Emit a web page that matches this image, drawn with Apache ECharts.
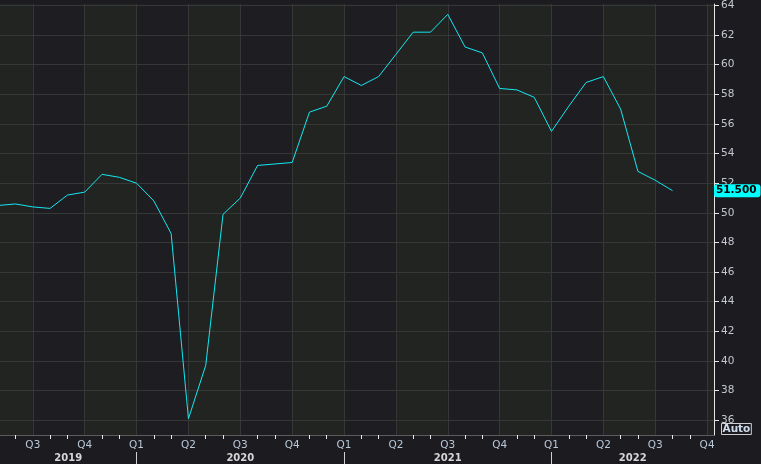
<!DOCTYPE html>
<html>
<head>
<meta charset="utf-8">
<script src="https://cdn.jsdelivr.net/npm/echarts@6/dist/echarts.min.js"></script>
<style>
  html, body { margin: 0; padding: 0; background: #1c1b20; }
  #chart { width: 761px; height: 464px; }
</style>
</head>
<body>
<div id="chart"></div>
<script>
// monthly index counted from Jan 2019 = 0
var firstMonth = 4; // May 2019
var pmiValues = [
    50.5, 50.6, 50.4, 50.3, 51.2, 51.4, 52.6, 52.4,                         // May-Dec 2019
    52.0, 50.8, 48.6, 36.1, 39.7, 49.9, 51.0, 53.2, 53.3, 53.4, 56.8, 57.2, // 2020
    59.2, 58.6, 59.2, 60.7, 62.2, 62.2, 63.4, 61.2, 60.8, 58.4, 58.3, 57.8, // 2021
    55.5, 57.2, 58.8, 59.2, 57.0, 52.8, 52.2, 51.5                          // Jan-Aug 2022
];
var yTicks = [36, 38, 40, 42, 44, 46, 48, 50, 52, 54, 56, 58, 60, 62, 64];
var quarterNames = ['Q1', 'Q2', 'Q3', 'Q4'];
var yearNames = ['2019', '2020', '2021', '2022'];

var xMin = 4.1, xMax = 45.4;

var seriesData = pmiValues.map(function (v, i) {
    return [firstMonth + i, v];
});
var lastValue = pmiValues[pmiValues.length - 1];

// quarter starts get the label + gridline, the other months a small tick
var quarterTicks = [], monthTicks = [];
for (var m = Math.ceil(xMin); m <= xMax; m++) {
    if (m % 3 === 0) quarterTicks.push(m); else monthTicks.push(m);
}
var yearBreaks = [], yearMids = [];
for (var k = 0; k < yearNames.length; k++) {
    var a = Math.max(k * 12, xMin), b = Math.min(k * 12 + 12, xMax);
    yearMids.push((a + b) / 2);
    if (k > 0) yearBreaks.push(k * 12);
}

var chart = echarts.init(document.getElementById('chart'));

var labelFont = 'DejaVu Sans';

chart.setOption({
    backgroundColor: '#1c1b20',
    animation: false,

    grid: {
        left: 0,
        right: 47,
        top: 0,
        bottom: 29,
        show: true,
        borderWidth: 0,
        backgroundColor: '#212421'
    },

    xAxis: [{
        // quarter labels + monthly ticks
        type: 'value',
        min: xMin,
        max: xMax,
        position: 'bottom',
        axisLine: { lineStyle: { color: '#5c5c5c' } },
        axisTick: { show: true, customValues: monthTicks, length: 4, lineStyle: { color: '#e8e8e8' } },
        axisLabel: {
            customValues: quarterTicks,
            margin: 5,
            color: '#b9c8d8',
            fontFamily: labelFont,
            fontSize: 10.5,
            formatter: function (v) {
                return quarterNames[Math.floor((v % 12) / 3)];
            }
        },
        splitLine: { show: false }
    }, {
        // years
        type: 'value',
        min: xMin,
        max: xMax,
        position: 'bottom',
        offset: 17,
        axisLine: { show: false },
        axisTick: { show: true, customValues: yearBreaks, length: 12, lineStyle: { color: '#d0d0d0' } },
        axisLabel: {
            customValues: yearMids,
            margin: 1,
            color: '#d6d6d6',
            fontWeight: 'bold',
            fontFamily: labelFont,
            fontSize: 10,
            formatter: function (v) {
                return yearNames[Math.floor(v / 12)];
            }
        },
        splitLine: { show: false }
    }, {
        // quarter gridlines and shading
        type: 'value',
        min: xMin,
        max: xMax,
        position: 'top',
        axisLine: { show: false },
        axisTick: { show: false, customValues: quarterTicks },
        axisLabel: { show: false },
        splitLine: { show: true, lineStyle: { color: '#363838', width: 1 } },
        splitArea: { show: true, areaStyle: { color: ['#1e1d22', '#212421'] } }
    }],

    yAxis: {
        type: 'value',
        position: 'right',
        z: 1, // keep horizontal gridlines above the quarter shading
        min: 35,
        max: 64.1,
        axisLine: { show: true, lineStyle: { color: '#e6e6e6' } },
        axisTick: { show: true, customValues: yTicks, length: 5, lineStyle: { color: '#e6e6e6' } },
        axisLabel: {
            customValues: yTicks,
            margin: 7,
            color: '#c3c7cf',
            fontFamily: labelFont,
            fontSize: 10.5
        },
        splitLine: { show: true, lineStyle: { color: '#363838', width: 1 } },
        axisPointer: {
            show: true,
            value: lastValue,
            status: 'show',
            triggerTooltip: false,
            lineStyle: { opacity: 0 },
            label: {
                show: true,
                margin: 0,
                padding: [1, 4, 1, 2],
                backgroundColor: '#00ffff',
                color: '#000',
                fontWeight: 'bold',
                fontFamily: labelFont,
                fontSize: 10.5,
                formatter: function (p) { return Number(p.value).toFixed(3); }
            }
        }
    },

    axisPointer: { triggerOn: 'none' },

    graphic: [{
        type: 'text',
        left: 721,
        top: 423,
        style: {
            text: 'Auto',
            fill: '#cfdcef',
            font: 'bold 10.5px "DejaVu Sans"',
            borderColor: '#cfcfcf',
            borderWidth: 1,
            padding: [0, 1, 0, 1]
        }
    }],

    series: [{
        type: 'line',
        data: seriesData,
        showSymbol: false,
        symbol: 'none',
        lineStyle: { color: '#14e8f2', width: 1 },
        silent: true
    }]
});
</script>
</body>
</html>
